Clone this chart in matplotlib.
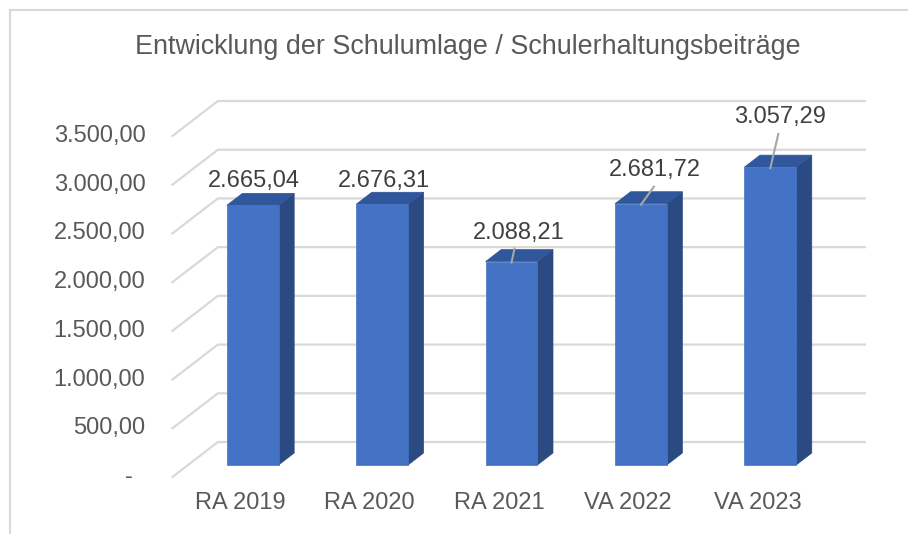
import matplotlib.pyplot as plt
from matplotlib.patches import Polygon
from matplotlib.lines import Line2D
from matplotlib.transforms import IdentityTransform
import numpy as np

plt.rcParams['font.family'] = ['Liberation Sans', 'DejaVu Sans']

# Daten
kategorien = ['RA 2019', 'RA 2020', 'RA 2021', 'VA 2022', 'VA 2023']
werte = [2665.04, 2676.31, 2088.21, 2681.72, 3057.29]
y_ticks = [0, 500, 1000, 1500, 2000, 2500, 3000, 3500]
titel = 'Entwicklung der Schulumlage / Schulerhaltungsbeiträge'


def fmt(v):
    # deutsches Zahlenformat, 0 als "-"
    if v == 0:
        return '-'
    s = f'{v:,.2f}'
    return s.replace(',', 'X').replace('.', ',').replace('X', '.')


W, H = 908, 534
fig = plt.figure(figsize=(W / 100, H / 100), dpi=100)
# Achse = vordere Ebene der Balken
ax = fig.add_axes([188 / W, 69 / H, 647 / W, 341 / H])
ax.set_xlim(-0.5, len(kategorien) - 0.5)
ax.set_ylim(0, 3500)
ax.axis('off')

# Schraegprojektion: Tiefe d in Pixel
K = 1.3
D_FRONT, D_BAR, D_BACK = -12, 12, 23


def proj(x, v, d=0):
    px, py = ax.transData.transform((x, v))
    return (px + K * d, py + d)


ident = IdentityTransform()
grid_col = '#D9D9D9'
tick_col = '#595959'
label_col = '#404040'

# Gitterlinien: linke Wand + Rueckwand
for t in y_ticks:
    a = proj(-0.5, t, D_FRONT)
    b = proj(-0.5, t, D_BACK)
    c = proj(len(kategorien) - 0.5, t, D_BACK)
    ax.add_line(Line2D([a[0], b[0], c[0]], [a[1], b[1], c[1]], color=grid_col,
                       lw=1.6, transform=ident, clip_on=False, zorder=1))
    ax.text(a[0] - (40 if t == 0 else 27), a[1], fmt(t), transform=ident,
            ha='right', va='center', fontsize=17, color=tick_col)

# Balken
front_col = '#4472C4'
side_col = '#2B4A81'
top_col = '#30569C'
hw = 0.2
for i, v in enumerate(werte):
    x0, x1 = i - hw, i + hw
    side = [proj(x1, 0, 0), proj(x1, 0, D_BAR), proj(x1, v, D_BAR), proj(x1, v, 0)]
    top = [proj(x0, v, 0), proj(x1, v, 0), proj(x1, v, D_BAR), proj(x0, v, D_BAR)]
    front = [proj(x0, 0, 0), proj(x1, 0, 0), proj(x1, v, 0), proj(x0, v, 0)]
    for pts, col in [(side, side_col), (top, top_col), (front, front_col)]:
        ax.add_patch(Polygon(pts, closed=True, facecolor=col, edgecolor=col, lw=0.5,
                             transform=ident, clip_on=False, zorder=3))
    # Kategorienbeschriftung
    lx, ly = proj(i, 0, D_FRONT)
    ax.text(lx + 3, ly - 26, kategorien[i], transform=ident, ha='center',
            va='center', fontsize=17, color=tick_col)

# Datenbeschriftungen (manuell verschoben wie im Original)
label_off = [(1, 24), (2, 23), (7, 29), (14, 34), (10, 50)]
leader_top = [None, None, (3, 13), (13, 17), (8, 33)]
for i, v in enumerate(werte):
    bx, by = proj(i, v, 0)
    dx, dy = label_off[i]
    ax.text(bx + dx, by + dy, fmt(v), transform=ident, ha='center', va='center',
            fontsize=17, color=label_col, zorder=5)
    if leader_top[i] is not None:
        tx, ty = leader_top[i]
        ax.add_line(Line2D([bx, bx + tx], [by - 1, by + ty], color='#A6A6A6', lw=1.5,
                           transform=ident, clip_on=False, zorder=4))

# Titel
fig.text(468 / W, 1 - 47 / H, titel, ha='center', va='center', fontsize=19.4,
         color=tick_col)

# Diagrammrahmen
fig.add_artist(Line2D([10 / W, 1], [1 - 10 / H, 1 - 10 / H], color=grid_col, lw=1.5,
                      transform=fig.transFigure))
fig.add_artist(Line2D([10 / W, 10 / W], [0, 1 - 10 / H], color=grid_col, lw=1.5,
                      transform=fig.transFigure))

fig.savefig('out.png', dpi=100)
